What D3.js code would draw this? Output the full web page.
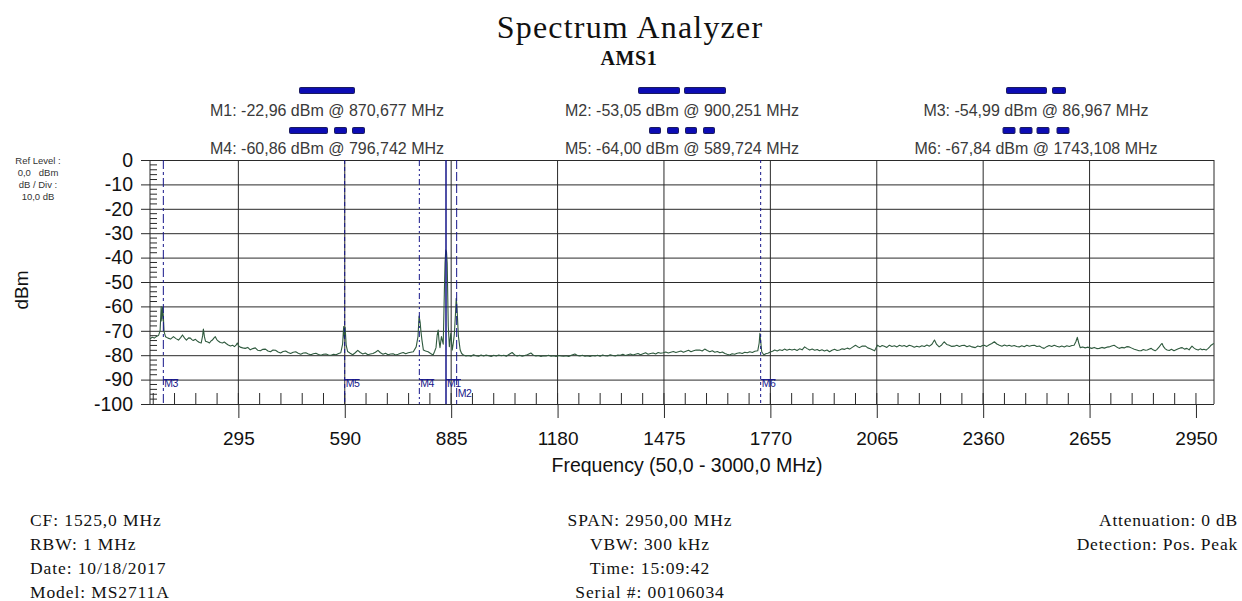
<!DOCTYPE html>
<html>
<head>
<meta charset="utf-8">
<script src="https://cdn.jsdelivr.net/npm/d3@7"></script>
<style>
  html, body { margin: 0; padding: 0; background: #fff; }
  svg { display: block; }
</style>
</head>
<body>
<svg id="chart" width="1242" height="601"></svg>
<script>
// ---- Sweep trace (frequency in MHz, level in dBm) ----
const freqMHz = [
  50,56,62,68,74,78,81,83,85,87,89,93,100,107,115,122,129,135,140,146,151,157,162,166,170,176,182,187,192,196,198,201,204,210,215,219,223,227,231,235,240,245,251,256,262,267,273,279,284,288,292,296,300,307,314,321,328,335,342,349,356,363,370,377,384,391,398,405,412,419,426,433,440,447,454,461,468,475,482,489,496,503,510,517,524,531,538,545,552,559,566,573,579,584,587,589,591,594,598,605,612,619,626,633,640,647,654,661,668,675,682,689,696,703,710,717,724,731,738,745,752,759,766,773,780,788,793,796,799,801,804,808,814,821,828,835,839,843,846,849,851,854,858,863,866,868,870,872,874,876,877,880,884,888,891,894,897,899,901,905,910,914,919,926,933,940,947,954,961,968,975,982,989,996,1003,1010,1017,1024,1031,1038,1045,1054,1061,1068,1075,1082,1089,1096,1106,1113,1120,1127,1134,1141,1148,1155,1162,1169,1176,1183,1190,1197,1204,1211,1218,1228,1235,1242,1249,1256,1263,1270,1277,1284,1291,1298,1305,1312,1319,1326,1333,1340,1347,1354,1361,1368,1375,1382,1389,1396,1403,1410,1417,1424,1431,1438,1445,1452,1459,1466,1473,1480,1487,1494,1501,1508,1515,1522,1529,1536,1543,1550,1557,1564,1574,1581,1588,1595,1602,1609,1616,1623,1630,1637,1644,1650,1657,1664,1671,1678,1685,1692,1699,1706,1713,1720,1727,1735,1739,1741,1743,1746,1752,1757,1763,1770,1776,1782,1789,1796,1803,1809,1816,1823,1830,1837,1844,1851,1858,1865,1872,1879,1886,1893,1900,1906,1913,1920,1927,1934,1941,1948,1955,1962,1969,1976,1983,1990,1997,2006,2012,2017,2025,2034,2040,2047,2053,2059,2063,2067,2074,2080,2086,2093,2100,2107,2114,2121,2128,2135,2141,2148,2155,2162,2169,2176,2183,2190,2197,2204,2211,2218,2225,2231,2238,2245,2252,2259,2266,2273,2280,2287,2294,2301,2308,2315,2322,2329,2338,2345,2352,2358,2363,2370,2377,2384,2391,2398,2405,2412,2419,2426,2432,2439,2446,2453,2460,2467,2474,2481,2488,2495,2502,2509,2516,2522,2529,2536,2543,2550,2557,2564,2571,2578,2585,2592,2599,2606,2612,2617,2621,2625,2629,2636,2643,2649,2654,2661,2668,2675,2682,2689,2696,2703,2709,2716,2723,2730,2737,2744,2751,2758,2765,2772,2779,2786,2792,2798,2804,2810,2815,2821,2826,2831,2837,2842,2848,2852,2856,2860,2865,2870,2876,2882,2889,2895,2901,2907,2912,2918,2925,2931,2935,2939,2944,2950,2956,2962,2967,2972,2978,2984,2988,2992,2996,3000
];
const levelDbm = [
  -73.4,-72.6,-73.0,-72.3,-71.8,-70.0,-60.1,-66.0,-60.4,-64.0,-70.3,-72.4,-73.0,-73.4,-72.4,-73.2,-73.8,-72.8,-71.7,-73.0,-73.8,-72.9,-73.0,-73.6,-74.0,-73.5,-74.3,-74.8,-75.0,-72.0,-69.3,-72.5,-74.3,-74.6,-75.0,-74.2,-73.8,-73.0,-72.4,-73.6,-74.3,-74.8,-75.0,-74.6,-75.3,-75.8,-76.2,-75.9,-76.5,-76.0,-75.0,-76.2,-76.7,-77.0,-77.2,-76.8,-77.8,-77.3,-77.0,-78.0,-78.2,-77.6,-77.5,-78.3,-78.6,-77.9,-78.0,-78.7,-79.1,-78.5,-78.3,-78.9,-79.3,-78.8,-78.6,-79.2,-79.6,-79.1,-79.0,-79.5,-79.8,-79.4,-79.2,-79.7,-80.0,-79.6,-79.5,-79.9,-80.0,-79.6,-79.8,-79.3,-79.0,-75.5,-68.3,-73.0,-68.6,-76.0,-78.5,-79.2,-79.8,-79.0,-78.0,-78.9,-79.5,-79.1,-79.8,-79.5,-79.3,-78.8,-78.0,-79.0,-79.6,-79.2,-79.8,-79.5,-79.4,-79.9,-79.6,-79.2,-78.9,-79.4,-79.0,-78.8,-78.6,-76.6,-72.4,-64.0,-66.5,-70.0,-73.8,-77.9,-78.3,-78.6,-79.3,-79.9,-78.5,-76.9,-72.0,-69.7,-73.5,-76.9,-72.4,-75.5,-55.0,-42.3,-36.9,-37.5,-42.3,-60.0,-68.0,-76.5,-71.0,-77.9,-75.0,-71.0,-63.0,-56.7,-60.0,-72.1,-77.9,-79.3,-79.9,-80.3,-80.1,-80.4,-79.8,-80.2,-80.4,-79.9,-80.3,-79.9,-80.2,-80.5,-80.0,-80.3,-79.9,-80.2,-80.0,-80.4,-79.7,-78.9,-79.9,-80.3,-80.0,-80.4,-80.1,-79.8,-79.1,-80.0,-80.3,-80.1,-80.5,-80.2,-80.3,-80.0,-80.4,-80.2,-80.5,-80.1,-80.3,-80.4,-80.2,-80.5,-80.0,-79.5,-80.1,-80.3,-80.0,-80.4,-80.2,-80.5,-80.1,-80.3,-80.0,-80.4,-79.9,-80.2,-80.3,-79.8,-80.1,-80.3,-79.9,-80.0,-79.6,-80.1,-79.8,-79.5,-79.9,-79.6,-79.3,-79.8,-79.4,-79.0,-79.6,-79.3,-79.1,-79.5,-78.9,-79.2,-79.0,-78.7,-79.1,-78.8,-78.5,-78.9,-78.6,-78.3,-78.8,-78.4,-78.0,-78.6,-78.2,-77.9,-77.9,-78.3,-77.5,-78.1,-78.6,-78.2,-78.8,-78.5,-79.0,-78.7,-79.3,-79.6,-79.9,-79.4,-79.6,-79.2,-79.0,-79.3,-78.8,-79.0,-78.6,-78.9,-78.4,-78.2,-75.0,-71.0,-74.0,-78.6,-79.9,-79.4,-79.2,-78.7,-78.4,-77.9,-78.3,-77.8,-78.1,-77.5,-78.0,-77.6,-77.9,-77.6,-78.1,-77.4,-77.8,-76.6,-77.3,-77.9,-77.5,-78.0,-77.7,-78.2,-77.8,-78.3,-77.9,-78.6,-78.0,-77.6,-78.1,-77.9,-77.4,-77.6,-77.1,-77.5,-76.8,-75.9,-76.5,-76.9,-76.2,-76.3,-77.0,-77.4,-77.8,-78.2,-77.0,-75.9,-76.6,-76.0,-76.3,-76.8,-75.9,-76.4,-76.1,-76.6,-75.9,-76.3,-76.0,-76.5,-75.9,-76.2,-76.7,-76.3,-76.6,-76.1,-76.4,-75.8,-76.3,-75.5,-73.8,-75.6,-76.6,-75.8,-74.5,-75.6,-75.9,-76.4,-76.3,-75.9,-76.4,-76.0,-75.9,-76.5,-76.1,-76.6,-76.9,-76.2,-76.5,-76.0,-75.9,-76.4,-75.7,-75.2,-74.5,-75.4,-75.9,-76.3,-75.8,-76.2,-75.9,-76.3,-76.0,-76.4,-76.6,-76.1,-76.5,-75.9,-76.3,-76.0,-75.9,-76.4,-76.2,-76.8,-77.2,-76.5,-76.0,-76.4,-75.9,-76.3,-76.6,-76.2,-76.6,-76.1,-76.4,-76.0,-75.9,-74.5,-72.7,-75.0,-76.9,-76.6,-77.0,-76.7,-76.9,-77.2,-76.8,-77.3,-77.2,-76.8,-77.1,-76.7,-76.6,-76.2,-75.9,-76.6,-77.2,-76.8,-77.0,-76.5,-76.6,-77.1,-77.6,-77.9,-78.2,-78.2,-77.7,-78.0,-77.9,-77.5,-77.2,-77.8,-78.2,-77.6,-76.6,-75.8,-75.2,-76.5,-77.4,-77.9,-78.1,-77.6,-78.2,-77.8,-77.4,-77.0,-76.9,-77.5,-77.2,-77.8,-77.0,-76.3,-77.0,-77.6,-77.9,-77.4,-77.8,-77.6,-77.9,-77.2,-76.6,-75.9,-75.5,-75.2
];

// ---- Markers ----
const markerNames = ["M1", "M2", "M3", "M4", "M5", "M6"];
const markerFreq  = [870.677, 900.251, 86.967, 796.742, 589.724, 1743.108];
const markerLevel = [-22.96, -53.05, -54.99, -60.86, -64.00, -67.84];

// ---- Axis ticks ----
const dbTicks = [0, -10, -20, -30, -40, -50, -60, -70, -80, -90, -100];
const freqTicks = [295, 590, 885, 1180, 1475, 1770, 2065, 2360, 2655, 2950];
const freqGridTicks = [295, 590, 885, 1180, 1475, 1770, 2065, 2360, 2655];

// ---- Instrument settings ----
const infoLeft   = ["CF: 1525,0 MHz", "RBW: 1 MHz", "Date: 10/18/2017", "Model: MS2711A"];
const infoCenter = ["SPAN: 2950,00 MHz", "VBW: 300 kHz", "Time: 15:09:42", "Serial #: 00106034"];
const infoRight  = ["Attenuation: 0 dB", "Detection: Pos. Peak"];
const refLevelLines = ["Ref Level :", "0,0   dBm", "dB / Div :", "10,0 dB"];

// ---- Drawing styles ----
const NAVY = "#16168a";
const GRID = "#2a2a2a";
const TRACE = "#2f5a3e";
const SANS = "'Liberation Sans', Arial, Helvetica, sans-serif";
const SERIF = "'Liberation Serif', 'Times New Roman', serif";

// line pattern per marker (plot line dash, legend bar segments)
const markerStyle = {
  M1: { dash: null,           bar: [55] },
  M2: { dash: "9,3",          bar: [41, 5, 41] },
  M3: { dash: "9,3,3,3",      bar: [40, 6, 13] },
  M4: { dash: "6,3,2,3,2,3",  bar: [38, 7, 12, 6, 12] },
  M5: { dash: "4,3",          bar: [11, 7, 11, 7, 11, 7, 11] },
  M6: { dash: "3,3",          bar: [12, 5, 12, 5, 12, 8, 12] }
};
const legendCols = [327, 682, 1036];
const legendRows = [{ bar: 90.5, text: 116 }, { bar: 130.5, text: 154 }];

const svg = d3.select("#chart");

const x = d3.scaleLinear().domain([50, 3000]).range([150, 1214]);
const y = d3.scaleLinear().domain([-100, 0]).range([404, 160]);

const comma = (v, p) => d3.format("." + p + "f")(v).replace(".", ",").replace("\u2212", "-");

// ---- Titles ----
svg.append("text")
  .attr("x", 630).attr("y", 38)
  .attr("text-anchor", "middle")
  .attr("font-family", SERIF).attr("font-size", 32)
  .attr("letter-spacing", 1.2)
  .attr("fill", "#111")
  .text("Spectrum Analyzer");
svg.append("text")
  .attr("x", 629).attr("y", 65)
  .attr("text-anchor", "middle")
  .attr("font-family", SERIF).attr("font-size", 20).attr("font-weight", "bold")
  .attr("letter-spacing", 0.6)
  .attr("fill", "#111")
  .text("AMS1");

// ---- Marker legend ----
const legendOrder = [["M1", "M2", "M3"], ["M4", "M5", "M6"]];
legendOrder.forEach((row, r) => {
  row.forEach((name, c) => {
    const i = markerNames.indexOf(name);
    const cx = legendCols[c];
    const segs = markerStyle[name].bar;
    const total = d3.sum(segs);
    let pos = cx - total / 2;
    segs.forEach((w, k) => {
      if (k % 2 === 0) {
        svg.append("rect")
          .attr("x", pos).attr("y", legendRows[r].bar - 3)
          .attr("width", w).attr("height", 6)
          .attr("rx", 1)
          .attr("fill", "#0c0cb4")
          .attr("stroke", "#1b1b5e").attr("stroke-width", 1);
      }
      pos += w;
    });
    svg.append("text")
      .attr("x", cx).attr("y", legendRows[r].text)
      .attr("text-anchor", "middle")
      .attr("font-family", SANS).attr("font-size", 16)
      .attr("fill", "#3a3a3a")
      .text(`${name}: ${comma(markerLevel[i], 2)} dBm @ ${comma(markerFreq[i], 3)} MHz`);
  });
});

// ---- Reference level note ----
refLevelLines.forEach((t, k) => {
  svg.append("text")
    .attr("x", 38).attr("y", 164 + k * 12)
    .attr("text-anchor", "middle")
    .attr("font-family", SANS).attr("font-size", 9.5)
    .attr("fill", "#333")
    .attr("xml:space", "preserve")
    .style("white-space", "pre")
    .text(t);
});

// ---- Y axis with horizontal grid lines ----
const yAxis = d3.axisLeft(y)
  .tickValues(dbTicks)
  .tickSizeInner(-(1214 - 141))
  .tickSizeOuter(0)
  .tickPadding(8)
  .tickFormat(d => String(d));
const gy = svg.append("g").attr("transform", "translate(141,0)").call(yAxis);
gy.select(".domain").remove();
gy.selectAll(".tick line").attr("stroke", GRID).attr("stroke-width", 1);
gy.selectAll(".tick text")
  .attr("font-family", SANS).attr("font-size", 19.5)
  .attr("fill", "#111");

// Fine level ticks along the left edge
svg.append("g").selectAll("line")
  .data(d3.range(-98, 0, 2).filter(v => v % 10 !== 0))
  .join("line")
  .attr("x1", 150).attr("x2", 157)
  .attr("y1", d => y(d)).attr("y2", d => y(d))
  .attr("stroke", GRID).attr("stroke-width", 1);

// ---- Vertical grid lines ----
svg.append("g").selectAll("line")
  .data(freqGridTicks)
  .join("line")
  .attr("x1", d => x(d)).attr("x2", d => x(d))
  .attr("y1", y(0)).attr("y2", y(-100))
  .attr("stroke", GRID).attr("stroke-width", 1);

// Minor frequency ticks above the bottom line
svg.append("g").selectAll("line")
  .data(d3.range(59, 3000, 59))
  .join("line")
  .attr("x1", d => x(d)).attr("x2", d => x(d))
  .attr("y1", y(-100) - 11).attr("y2", y(-100))
  .attr("stroke", GRID).attr("stroke-width", 1);

// ---- X axis ----
const xAxis = d3.axisBottom(x)
  .tickValues(freqTicks)
  .tickSizeInner(14)
  .tickSizeOuter(0)
  .tickPadding(14)
  .tickFormat(d => String(d));
const gx = svg.append("g").attr("transform", `translate(0,${y(-100)})`).call(xAxis);
gx.select(".domain").remove();
gx.selectAll(".tick line").attr("stroke", GRID).attr("stroke-width", 1);
gx.selectAll(".tick text")
  .attr("font-family", SANS).attr("font-size", 19)
  .attr("fill", "#111");

// Plot frame sides
[x(50), x(3000)].forEach(px => {
  svg.append("line")
    .attr("x1", px).attr("x2", px)
    .attr("y1", y(0)).attr("y2", y(-100))
    .attr("stroke", GRID).attr("stroke-width", 1);
});

// Axis titles
svg.append("text")
  .attr("x", 687).attr("y", 472)
  .attr("text-anchor", "middle")
  .attr("font-family", SANS).attr("font-size", 19.5)
  .attr("fill", "#111")
  .text("Frequency (50,0 - 3000,0 MHz)");
svg.append("text")
  .attr("transform", "translate(28,290) rotate(-90)")
  .attr("text-anchor", "middle")
  .attr("font-family", SANS).attr("font-size", 19)
  .attr("fill", "#111")
  .text("dBm");

// ---- Trace ----
svg.append("clipPath").attr("id", "plot-clip")
  .append("rect")
  .attr("x", x(50)).attr("y", y(0))
  .attr("width", x(3000) - x(50)).attr("height", y(-100) - y(0));

const trace = freqMHz.map((f, i) => [f, levelDbm[i]]);
svg.append("path")
  .datum(trace)
  .attr("clip-path", "url(#plot-clip)")
  .attr("fill", "none")
  .attr("stroke", TRACE)
  .attr("stroke-width", 1.1)
  .attr("stroke-linejoin", "round")
  .attr("d", d3.line().x(d => x(d[0])).y(d => y(d[1])));

// ---- Marker lines and tags ----
markerNames.forEach((name, i) => {
  const mx = x(markerFreq[i]);
  svg.append("line")
    .attr("x1", mx).attr("x2", mx)
    .attr("y1", y(0)).attr("y2", y(-100))
    .attr("stroke", NAVY)
    .attr("stroke-width", name === "M1" ? 1.5 : 1)
    .attr("stroke-dasharray", markerStyle[name].dash);
  const low = name === "M2";
  const ty = low ? y(-95) + 5 : y(-90) + 7;
  if (!low) {
    svg.append("line")
      .attr("x1", mx).attr("x2", mx + 15)
      .attr("y1", y(-90)).attr("y2", y(-90))
      .attr("stroke", NAVY).attr("stroke-width", 1);
  }
  svg.append("text")
    .attr("x", mx + 1).attr("y", ty)
    .attr("font-family", SANS).attr("font-size", 10.5)
    .attr("letter-spacing", -0.5)
    .attr("fill", NAVY)
    .text(name);
});

// ---- Instrument settings footer ----
infoLeft.forEach((t, k) => {
  svg.append("text")
    .attr("x", 30).attr("y", 526 + k * 24)
    .attr("font-family", SERIF).attr("font-size", 17.5)
    .attr("letter-spacing", 0.9)
    .attr("fill", "#111")
    .text(t);
});
infoCenter.forEach((t, k) => {
  svg.append("text")
    .attr("x", 650).attr("y", 526 + k * 24)
    .attr("text-anchor", "middle")
    .attr("font-family", SERIF).attr("font-size", 17.5)
    .attr("letter-spacing", 0.9)
    .attr("fill", "#111")
    .text(t);
});
infoRight.forEach((t, k) => {
  svg.append("text")
    .attr("x", 1238).attr("y", 526 + k * 24)
    .attr("text-anchor", "end")
    .attr("font-family", SERIF).attr("font-size", 17.5)
    .attr("letter-spacing", 0.8)
    .attr("fill", "#111")
    .text(t);
});
</script>
</body>
</html>
